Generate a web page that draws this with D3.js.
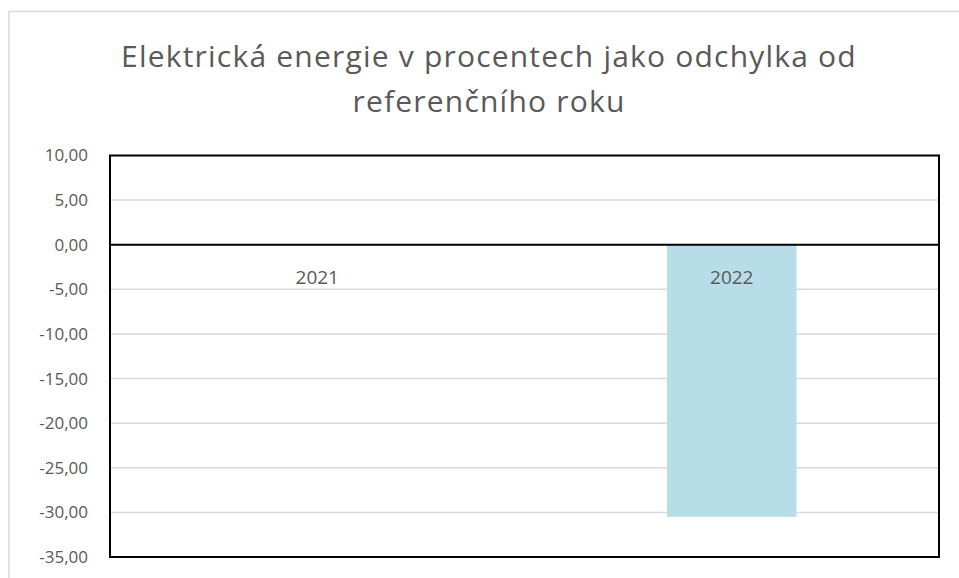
<!DOCTYPE html>
<html>
<head>
<meta charset="utf-8">
<script src="https://cdn.jsdelivr.net/npm/d3@7"></script>
<style>
  body, html { margin:0; padding:0; background:#fff; }
  svg { display:block; font-family: "Open Sans", sans-serif; }
</style>
</head>
<body>
<svg id="chart" width="959" height="578"></svg>
<script>
var titleLines = ["Elektrická energie v procentech jako odchylka od", "referenčního roku"];
var categories = ["2021", "2022"];
var values = [0, -30.5];
var yTicks = [10, 5, 0, -5, -10, -15, -20, -25, -30, -35];

var svg = d3.select("#chart");
var plot = {left: 110, right: 939, top: 155.5, bottom: 557};

// outer chart frame (cropped at right/bottom)
svg.append("rect")
   .attr("x", 9).attr("y", 11.5)
   .attr("width", 1000).attr("height", 1000)
   .attr("fill", "#fff")
   .attr("stroke", "#d9d9d9").attr("stroke-width", 1.5);

svg.selectAll("text.title")
   .data(titleLines)
   .enter().append("text")
   .attr("class", "title")
   .attr("x", 489)
   .attr("y", function(d, i){ return 67 + i * 45; })
   .attr("text-anchor", "middle")
   .attr("fill", "#595959")
   .style("font-size", "30px")
   .style("letter-spacing", "1.2px")
   .text(function(d){ return d; });

var y = d3.scaleLinear().domain([-35, 10]).range([plot.bottom, plot.top]);
var x = d3.scaleBand().domain(categories).range([plot.left, plot.right])
          .paddingInner(0.6875).paddingOuter(0.34375);
var xc = d3.scaleBand().domain(categories).range([plot.left, plot.right]);

// gridlines
svg.append("g")
   .selectAll("line")
   .data(yTicks.filter(function(d){ return d !== 0 && d !== 10 && d !== -35; }))
   .enter().append("line")
   .attr("x1", plot.left).attr("x2", plot.right)
   .attr("y1", function(d){ return y(d); })
   .attr("y2", function(d){ return y(d); })
   .attr("stroke", "#d9d9d9").attr("stroke-width", 1.5);

// bars
svg.append("g")
   .selectAll("rect")
   .data(values)
   .enter().append("rect")
   .attr("x", function(d, i){ return x(categories[i]); })
   .attr("width", x.bandwidth())
   .attr("y", function(d){ return y(Math.max(0, d)); })
   .attr("height", function(d){ return Math.abs(y(d) - y(0)); })
   .attr("fill", "#b7dde8");

// y axis labels
var yAxis = d3.axisLeft(y).tickValues(yTicks).tickSize(0).tickPadding(22)
              .tickFormat(function(d){ return d3.format(".2f")(d).replace(".", ",").replace("−", "-"); });
var ya = svg.append("g").attr("transform", "translate(" + plot.left + ",0)").call(yAxis);
ya.select(".domain").remove();
ya.selectAll("text")
  .attr("fill", "#595959")
  .style("font-family", "'Open Sans', sans-serif")
  .style("font-size", "17px");

// zero line
svg.append("line")
   .attr("x1", plot.left).attr("x2", plot.right)
   .attr("y1", y(0)).attr("y2", y(0))
   .attr("stroke", "#000").attr("stroke-width", 2);

// category labels below zero line
svg.append("g")
   .selectAll("text")
   .data(categories)
   .enter().append("text")
   .attr("x", function(d){ return xc(d) + xc.bandwidth() / 2; })
   .attr("y", y(0) + 39)
   .attr("text-anchor", "middle")
   .attr("fill", "#595959")
   .style("font-size", "19px")
   .text(function(d){ return d; });

// plot frame
svg.append("rect")
   .attr("x", plot.left).attr("y", plot.top)
   .attr("width", plot.right - plot.left).attr("height", plot.bottom - plot.top)
   .attr("fill", "none").attr("stroke", "#000").attr("stroke-width", 2);
</script>
</body>
</html>
